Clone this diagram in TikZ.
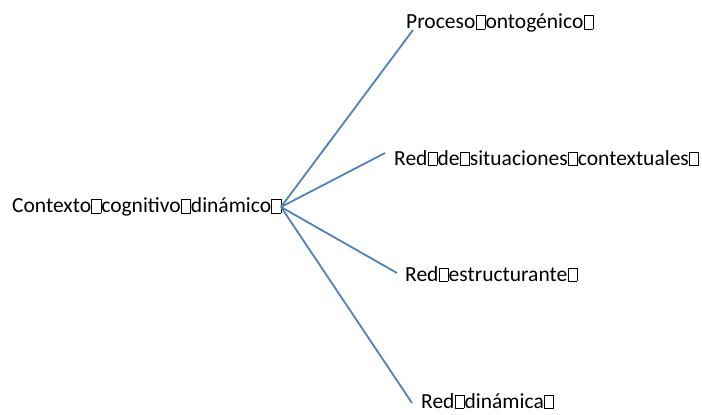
\documentclass[tikz,border=0pt]{standalone}
\usepackage{fontspec}
\setmainfont{Carlito}
\newcommand\gbx{{\setlength\fboxsep{0pt}\setlength\fboxrule{0.5pt}\kern0.3pt\fbox{\rule{0pt}{0.6em}\hspace{0.4em}}\kern0.3pt}}
\definecolor{ofblue}{RGB}{79,129,189}
\tikzset{
  lbl/.style={anchor=west, inner sep=0pt, font=\fontsize{21.5}{25}\selectfont, text=black},
  conn/.style={draw=ofblue, line width=1.8pt},
}
\begin{document}
\begin{tikzpicture}[x=1pt,y=-1pt]
\useasboundingbox (0,0) rectangle (702,415);
\node[lbl] (ctx) at (12,207) {Contexto\gbx cognitivo\gbx dinámico\gbx};
\node[lbl] (p1) at (406,23) {Proceso\gbx ontogénico\gbx};
\node[lbl] (p2) at (394,158) {Red\gbx de\gbx situaciones\gbx contextuales\gbx};
\node[lbl] (p3) at (405,274) {Red\gbx estructurante\gbx};
\node[lbl] (p4) at (421,401) {Red\gbx dinámica\gbx};
\coordinate (hub) at (281,207);
\coordinate (e1) at (413,30);
\coordinate (e2) at (385,153);
\coordinate (e3) at (397,273);
\coordinate (e4) at (412,403);
\foreach \e in {e1,e2,e3,e4} \draw[conn] (hub) -- (\e);
\end{tikzpicture}
\end{document}
